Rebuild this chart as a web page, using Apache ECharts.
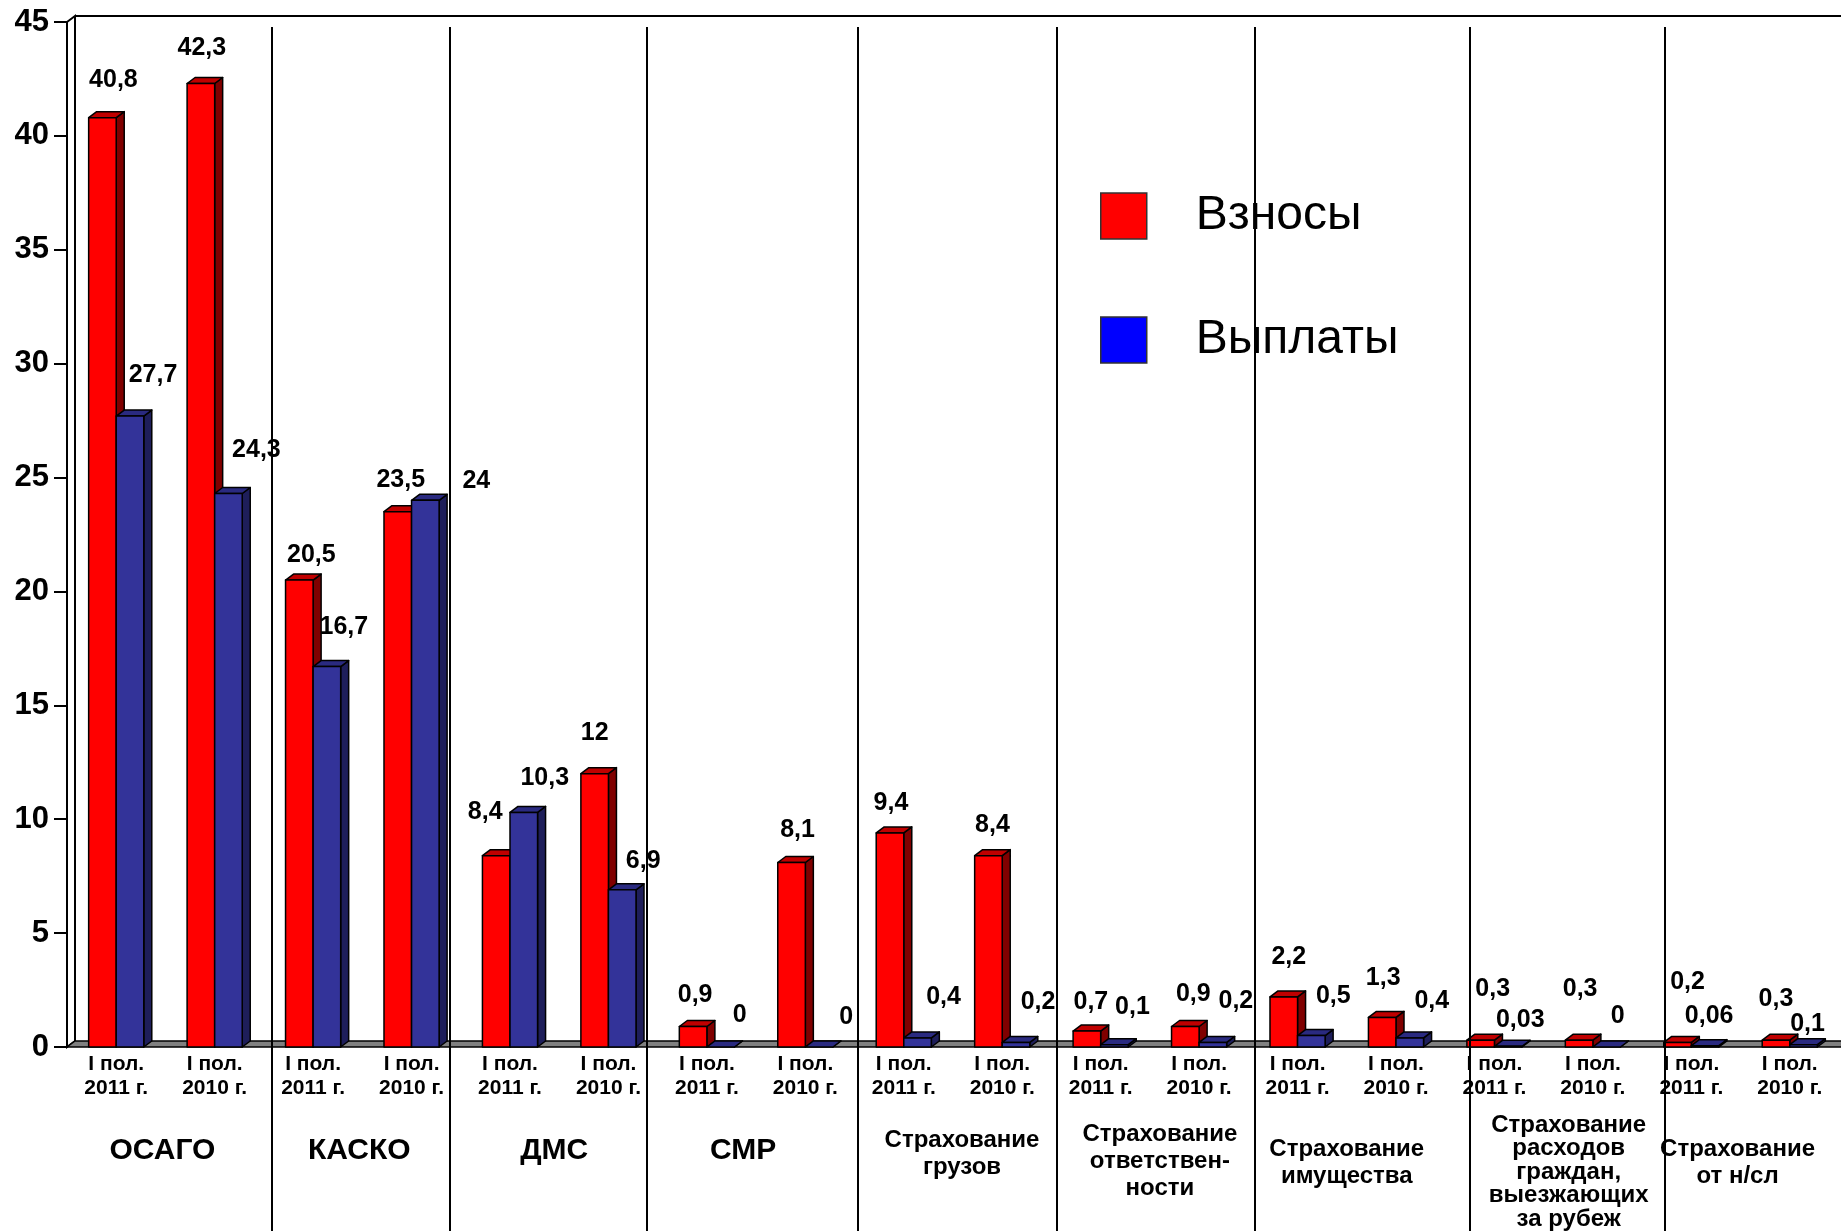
<!DOCTYPE html>
<html><head><meta charset="utf-8">
<script src="https://cdn.jsdelivr.net/npm/echarts@6/dist/echarts.min.js"></script>
<style>html,body{margin:0;padding:0;background:#fff}#c{width:1841px;height:1231px}</style>
</head><body><div id="c"></div>
<script>
// ---------- data ----------
const groups = ['ОСАГО', 'КАСКО', 'ДМС', 'СМР', 'Страхование\nгрузов', 'Страхование\nответствен-\nности',
  'Страхование\nимущества', 'Страхование\nрасходов\nграждан,\nвыезжающих\nза рубеж', 'Страхование\nот н/сл'];
const periods = ['I пол.\n2011 г.', 'I пол.\n2010 г.'];
const seriesNames = ['Взносы', 'Выплаты'];
const premiums = [40.8, 42.3, 20.5, 23.5, 8.4, 12, 0.9, 8.1, 9.4, 8.4, 0.7, 0.9, 2.2, 1.3, 0.3, 0.3, 0.2, 0.3];
const payouts  = [27.7, 24.3, 16.7, 24, 10.3, 6.9, 0, 0, 0.4, 0.2, 0.1, 0.2, 0.5, 0.4, 0.03, 0, 0.06, 0.1];
const yMin = 0, yMax = 45, yStep = 5;

// ---------- layout / style ----------
const FONT = '"Liberation Sans", Arial, Helvetica, sans-serif';
const DX = 8, DY = 6;
const redLabelShift = [[11,-38],[1,-35],[12,-25],[3,-32],[-11,-44],[0,-41],[2,-31],[6,-32],[1,-30],[4,-31],[4,-29],[8,-32],[5,-40],[1,-39],[12,-51],[1,-51],[10,-60],[0,-41]];
const blueLabelShift = [[23,-41],[28,-43],[17,-40],[51,-19],[21,-34],[21,-29],[19,-32],[27,-30],[26,-41],[22,-40],[18,-38],[23,-41],[22,-40],[22,-37],[12,-26],[11,-31],[4,-30],[4,-21]];
const groupNudge = [[-3,-8],[-3,-8],[-5,-8],[-13,-8],[9,-5],[10,2],[0,4],[25,13],[-3,4]];
const dividerX = [272, 450, 647, 858, 1057, 1255, 1470, 1665];

const categories = [];
groups.forEach(g => periods.forEach(p => categories.push(g + '|' + p)));

function fmt(v) { return String(v).replace('.', ','); }

function barRenderer(si, colors, shifts) {
  return function (params, api) {
    const i = api.value(0), v = api.value(1);
    const p0 = api.coord([i, 0]), p1 = api.coord([i, v]);
    const band = api.size([1, 0])[0];
    const w = band * 0.28;
    const x = p0[0] + (si === 0 ? -w : 0);
    const yb = p0[1], yt = p1[1];
    const S = {stroke: '#000', lineWidth: 1.5, lineJoin: 'round'};
    const ch = [];
    ch.push({type: 'polygon', shape: {points: [[x + w, yt], [x + w + DX, yt - DY], [x + w + DX, yb - DY], [x + w, yb]]},
      style: Object.assign({fill: colors.side}, S)});
    ch.push({type: 'polygon', shape: {points: [[x, yt], [x + DX, yt - DY], [x + w + DX, yt - DY], [x + w, yt]]},
      style: Object.assign({fill: colors.top}, S)});
    if (yb - yt > 0.5) ch.push({type: 'rect', shape: {x: x, y: yt, width: w, height: yb - yt},
      style: Object.assign({fill: colors.front}, S)});
    const sh = shifts[params.dataIndex];
    ch.push({type: 'text', z2: 100, style: {text: fmt(v), x: x + w / 2 + sh[0], y: yt + sh[1],
      align: 'center', verticalAlign: 'middle', fontSize: 25, fontWeight: 'bold', fontFamily: FONT, fill: '#000'}});
    return {type: 'group', children: ch};
  };
}

function frameRenderer(params, api) {
  const c = params.coordSys;
  const x = c.x, y = c.y, w = c.width, h = c.height;
  const R = x + w + 20;
  return {type: 'group', children: [
    {type: 'polygon', shape: {points: [[x, y], [x + DX, y - DY], [x + DX, y + h - DY], [x, y + h]]},
      style: {fill: '#fff', stroke: '#000', lineWidth: 2}},
    {type: 'line', shape: {x1: x + DX, y1: y - DY, x2: R, y2: y - DY}, style: {stroke: '#000', lineWidth: 2}},
    {type: 'polygon', shape: {points: [[x, y + h], [x + DX, y + h - DY], [R, y + h - DY], [R, y + h]]},
      style: {fill: '#808080', stroke: '#000', lineWidth: 1.5}}
  ]};
}

// group label rich styles
const rich = {};
groups.forEach((g, i) => {
  const lines = g.split('\n');
  const dx = groupNudge[i][0];
  const pad = [0, dx < 0 ? -2 * dx : 0, 0, dx > 0 ? 2 * dx : 0];
  const big = lines.length === 1;
  rich['g' + i] = {fontSize: big ? 30 : 24, fontWeight: 'bold', fontFamily: FONT, color: '#000',
    lineHeight: big ? 32 : (lines.length > 3 ? 23.5 : 27), padding: pad, align: 'center'};
  const n = Math.round(Math.abs(groupNudge[i][1]) * 2);
  if (n > 0) rich['sp' + i] = {fontSize: 1, lineHeight: n};
});
function groupLabel(v) {
  const i = groups.indexOf(v);
  const lines = v.split('\n').map(l => '{g' + i + '|' + l + '}');
  const dy = groupNudge[i][1];
  const n = Math.round(Math.abs(dy) * 2);
  const spacer = n > 0 ? '{sp' + i + '| }' : null;
  if (dy < 0 && spacer) lines.push(spacer);
  if (dy > 0 && spacer) lines.unshift(spacer);
  return lines.join('\n');
}

const chart = echarts.init(document.getElementById('c'), null, {renderer: 'canvas'});
chart.setOption({
  animation: false,
  backgroundColor: '#fff',
  grid: {left: 67, right: 2, top: 22, bottom: 183, containLabel: false},
  legend: {
    orient: 'vertical', left: 1095, top: 187, itemWidth: 46, itemHeight: 46, itemGap: 76,
    icon: 'rect', selectedMode: false,
    data: [
      {name: seriesNames[0], itemStyle: {color: '#FF0000', borderColor: '#333', borderWidth: 1.5}},
      {name: seriesNames[1], itemStyle: {color: '#0000FF', borderColor: '#333', borderWidth: 1.5}}
    ],
    formatter: n => '{t|' + n + '}',
    textStyle: {rich: {t: {fontSize: 48, fontFamily: FONT, color: '#000', padding: [0, 0, 0, 44]}}}
  },
  xAxis: [{
    type: 'category', data: categories, boundaryGap: true,
    axisLine: {show: false}, axisTick: {show: false},
    axisLabel: {interval: 0, margin: 5, formatter: v => v.split('|')[1],
      fontSize: 21, fontWeight: 'bold', fontFamily: FONT, color: '#000', lineHeight: 24}
  }, {
    type: 'category', data: groups, position: 'bottom', boundaryGap: true,
    axisLine: {show: false}, axisTick: {show: false}, splitLine: {show: false},
    axisLabel: {interval: 0, margin: 112, verticalAlign: 'middle', formatter: groupLabel, rich: rich}
  }],
  yAxis: {
    type: 'value', min: yMin, max: yMax, interval: yStep,
    axisLine: {show: true, lineStyle: {color: '#000', width: 2}},
    axisTick: {show: true, length: 13, lineStyle: {color: '#000', width: 2}},
    splitLine: {show: false},
    axisLabel: {margin: 18, fontSize: 31, fontWeight: 'bold', fontFamily: FONT, color: '#000'}
  },
  graphic: dividerX.map(x => ({type: 'line', z: 100, shape: {x1: x, y1: 27, x2: x, y2: 1231},
    style: {stroke: '#000', lineWidth: 2}})),
  series: [
    {type: 'custom', name: 'frame', z: 1, silent: true, renderItem: frameRenderer, data: [[0, 0]],
      encode: {x: 0, y: 1}},
    {type: 'custom', name: seriesNames[0], z: 2, itemStyle: {color: '#FF0000'},
      renderItem: barRenderer(0, {front: '#FF0000', top: '#C00000', side: '#800000'}, redLabelShift),
      data: premiums.map((v, i) => [i, v]), encode: {x: 0, y: 1}},
    {type: 'custom', name: seriesNames[1], z: 2, itemStyle: {color: '#0000FF'},
      renderItem: barRenderer(1, {front: '#333399', top: '#2A2A80', side: '#1E1E5A'}, blueLabelShift),
      data: payouts.map((v, i) => [i, v]), encode: {x: 0, y: 1}}
  ]
});
</script></body></html>
